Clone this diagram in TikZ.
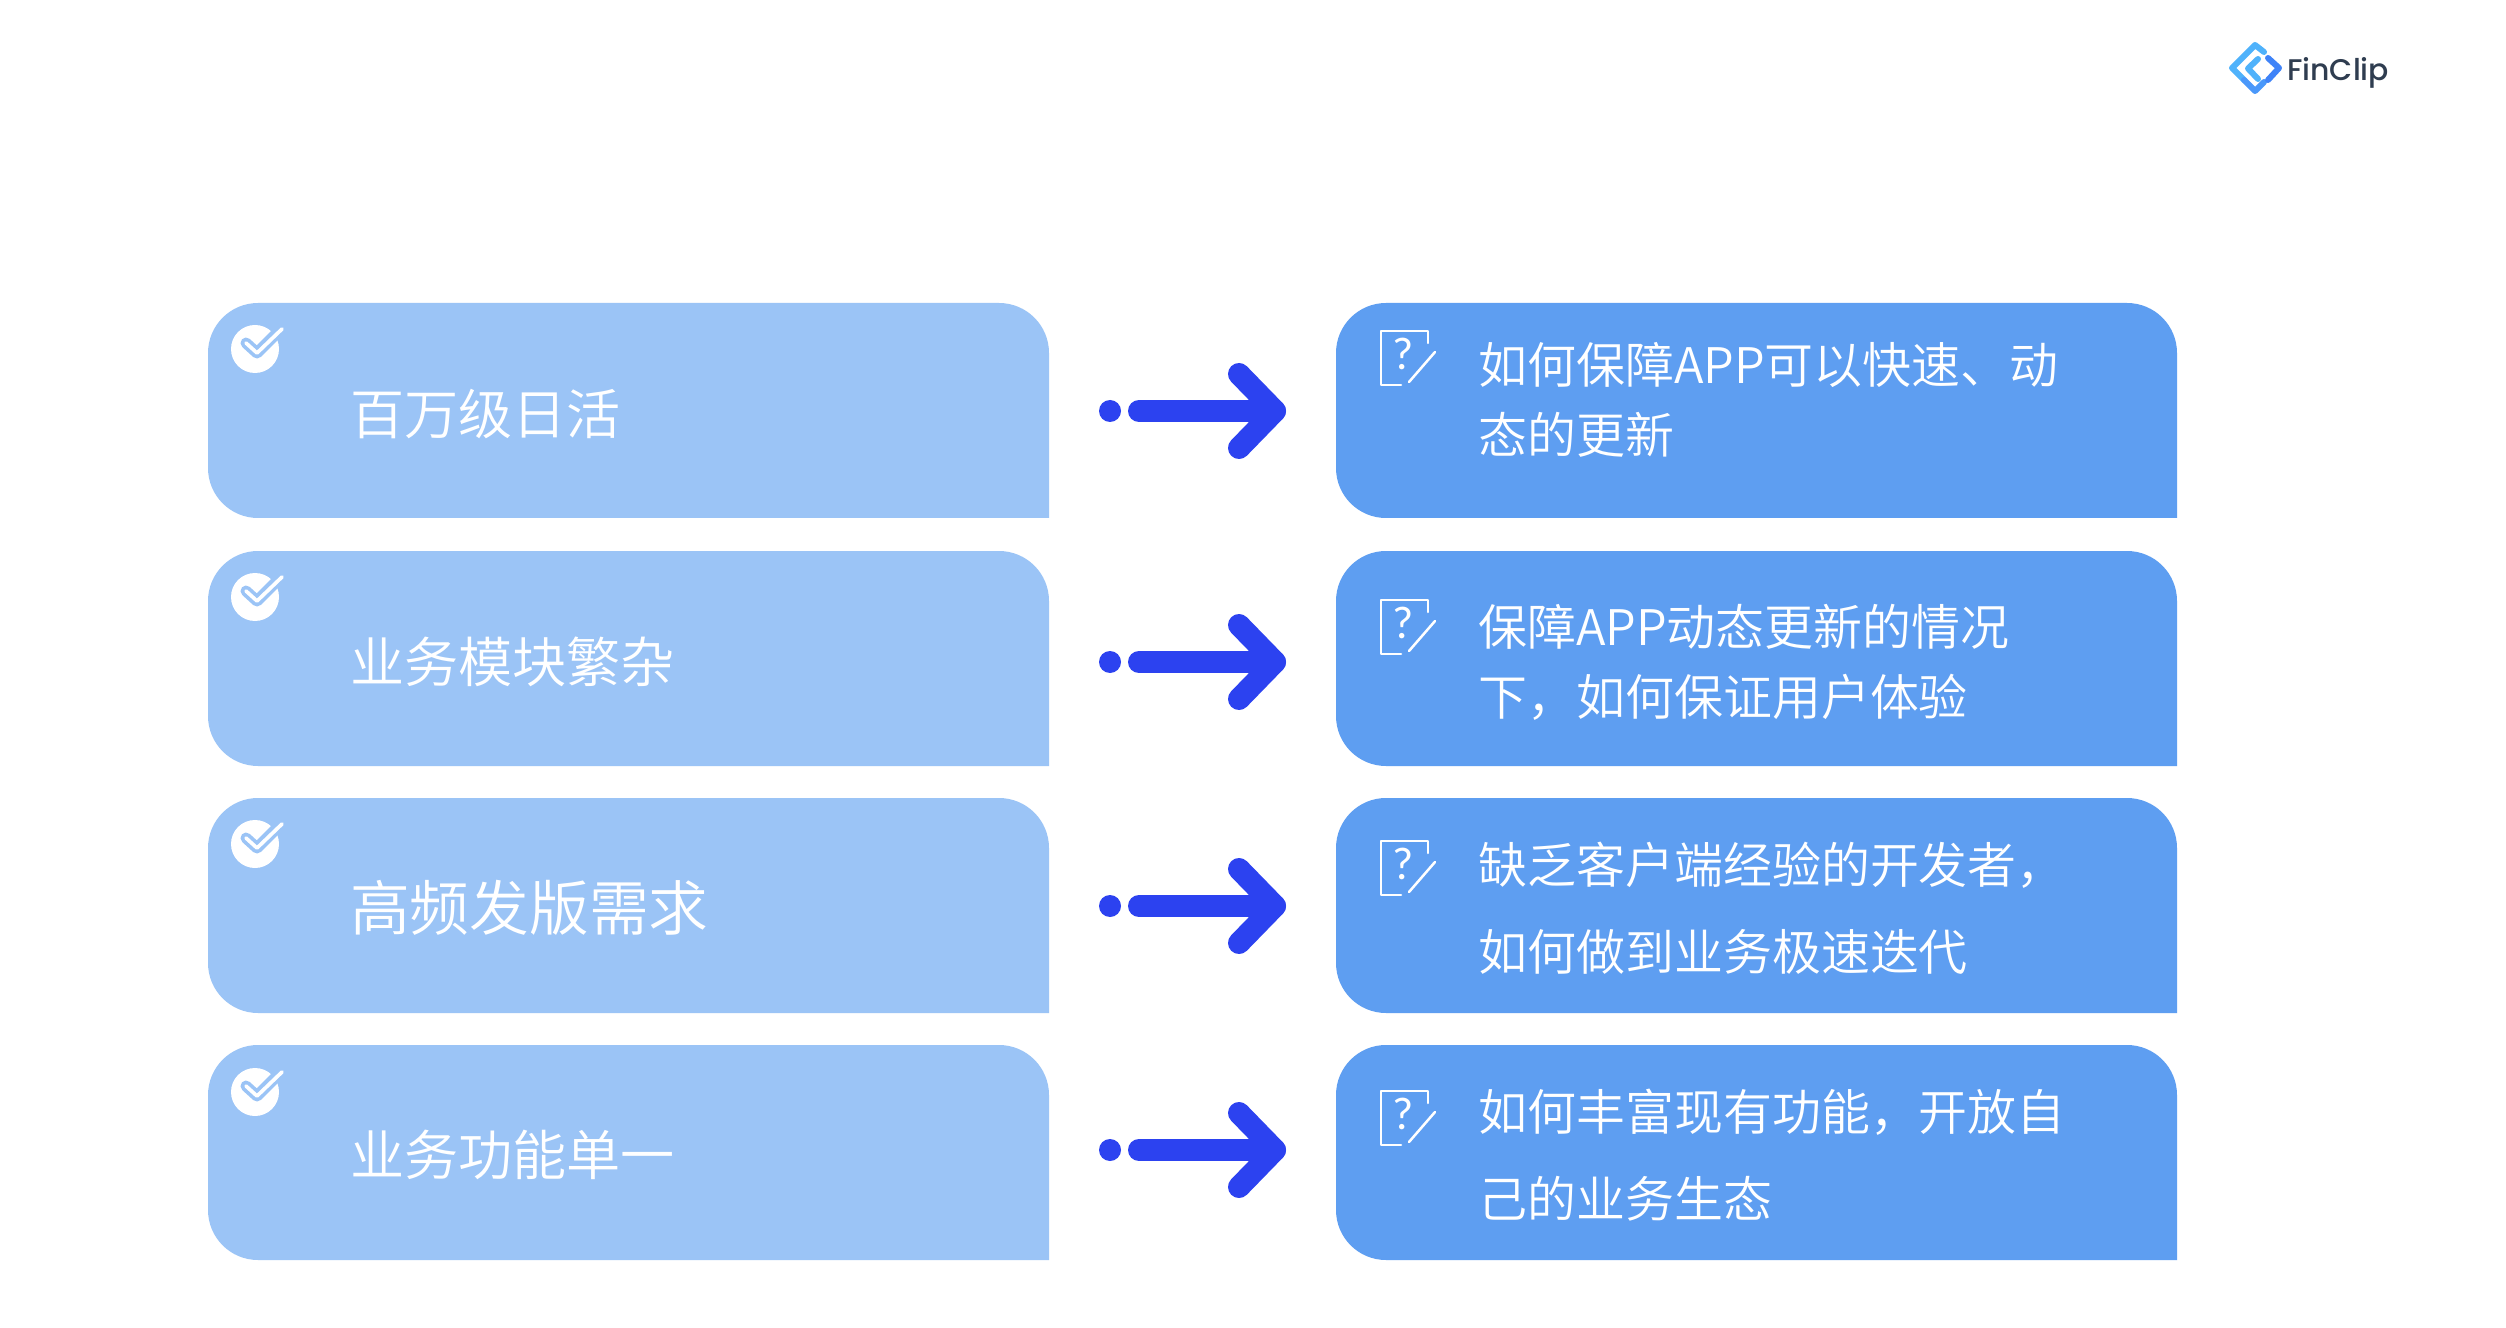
\documentclass[tikz,border=0pt]{standalone}
\usepackage{fontspec}
\newfontfamily\cjk[UprightFont={* DemiLight}]{Noto Sans CJK SC}
\newfontfamily\logofont[UprightFont={* Medium}]{Poppins}
\newfontfamily\markfont{Lato}
\definecolor{lightbox}{HTML}{9BC4F6}
\definecolor{darkbox}{HTML}{5E9EF1}
\definecolor{arrowblue}{HTML}{2C42F0}
\definecolor{logodark}{HTML}{2F3D50}
\definecolor{logoblueA}{HTML}{4FB2FB}
\definecolor{logoblueM}{HTML}{4A98FA}
\definecolor{logoblueB}{HTML}{3F83F8}
\tikzset{
  x=0.03cm,y=-0.03cm,
  leftlabel/.style={anchor=west,text=white,inner sep=0pt,font=\cjk\fontsize{46.2}{50}\selectfont},
  leftlabelbig/.style={anchor=west,text=white,inner sep=0pt,font=\cjk\fontsize{51}{55}\selectfont},
  rightlabel/.style={anchor=west,text=white,inner sep=0pt,font=\cjk\fontsize{41.8}{46}\selectfont},
  iconline/.style={draw=white,line width=0.075cm,line cap=round,line join=round},
  arrowline/.style={draw=arrowblue,line width=0.66cm,line cap=round,line join=round},
  logoline/.style={line width=0.18cm,line cap=round,line join=round},
}
\newcommand{\roundbox}[4]{% x y colour name
  \fill[#3] (#1,#2+215) [rounded corners=1.5cm] -- (#1,#2) -- (#1+841,#2) [sharp corners] -- (#1+841,#2+215) [rounded corners=1.5cm] -- cycle;
  \coordinate (#4) at (#1+420,#2+107);
}
\newcommand{\checkicon}[1]{% y of centre
  \fill[white] (255,#1) circle[radius=24];
  \draw[lightbox,line width=0.33cm,line cap=round,line join=round] (246,#1-6) -- (257,#1+4) -- (275,#1-14);
  \draw[white,line width=0.11cm,line cap=round,line join=round] (246,#1-6) -- (257,#1+4) -- (282,#1-20);
}
\newcommand{\queryicon}[1]{% y of top edge
  \draw[iconline] (1401,#1+54) -- (1381,#1+54) -- (1381,#1) -- (1428,#1) -- (1428,#1+12);
  \draw[iconline] (1409,#1+51) -- (1435,#1+21);
  \node[anchor=center,text=white,inner sep=0pt,font=\markfont\fontsize{37}{37}\selectfont] at (1403,#1+23) {?};
}
\begin{document}
\begin{tikzpicture}
\useasboundingbox (0,0) rectangle (2506,1328);
\fill[white] (0,0) rectangle (2506,1328);
% boxes
\roundbox{208}{303}{lightbox}{l1}
\roundbox{208}{551}{lightbox}{l2}
\roundbox{208}{798}{lightbox}{l3}
\roundbox{208}{1045}{lightbox}{l4}
\roundbox{1336}{303}{darkbox}{r1}
\roundbox{1336}{551}{darkbox}{r2}
\roundbox{1336}{798}{darkbox}{r3}
\roundbox{1336}{1045}{darkbox}{r4}
% check icons
\checkicon{349}\checkicon{597}\checkicon{844}\checkicon{1092}
% question icons
\queryicon{331}\queryicon{600}\queryicon{841}\queryicon{1091}
% left labels
\node[leftlabel] (a1) at (350,414) {百万级日活};
\node[leftlabel] (a2) at (350,662) {业务模块繁杂};
\node[leftlabelbig] (a3) at (350,908) {高频发版需求};
\node[leftlabel] (a4) at (350,1155) {业务功能单一};
% right labels
\node[rightlabel] (b1) at (1478,365) {如何保障APP可以快速、动};
\node[rightlabel] (b1b) at (1478,435) {态的更新};
\node[rightlabel] (b2) at (1478,627) {保障APP动态更新的情况};
\node[rightlabel] (b2b) at (1478,697) {下，如何保证用户体验};
\node[rightlabel] (b3) at (1478,865) {缺乏客户端经验的开发者，};
\node[rightlabel] (b3b) at (1478,952) {如何做到业务极速迭代};
\node[rightlabel] (b4) at (1478,1112) {如何丰富现有功能，开放自};
\node[rightlabel] (b4b) at (1478,1199) {己的业务生态};
% arrows
\foreach \yy in {411,662,906,1150}{
  \coordinate (dot) at (1110,\yy);
  \coordinate (tail) at (1139,\yy);
  \coordinate (tip) at (1275,\yy);
  \fill[arrowblue] (dot) circle[radius=11];
  \draw[arrowline] (tail) -- (tip);
  \draw[arrowline] (1239,\yy-37) -- (tip) -- (1239,\yy+37);
}
% logo
\draw[logoblueA,logoline] (2264,52) -- (2255,45) -- (2232,68) -- (2244,80);
\draw[logoblueM,logoline] (2244,80) -- (2255,91) -- (2264,82);
\draw[logoblueA,logoline] (2258,59) -- (2248,68.5) -- (2258,79);
\draw[logoblueB,logoline] (2268,58) -- (2279,68) -- (2268,80);
\node[anchor=west,text=logodark,inner sep=0pt,font=\logofont\fontsize{25.5}{26}\selectfont] (logo) at (2287,73) {FinClip};
\end{tikzpicture}
\end{document}
